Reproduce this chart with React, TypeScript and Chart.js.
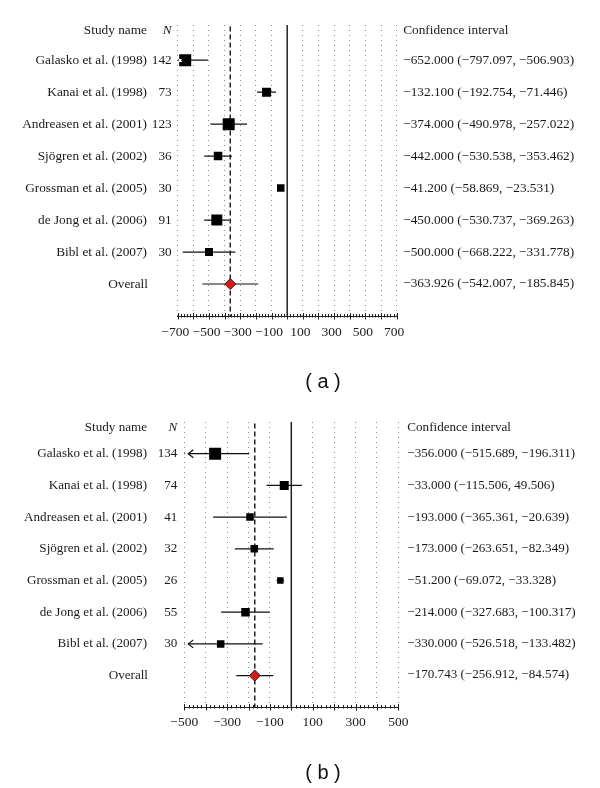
import React, { useEffect, useRef } from "react";
import { Chart, registerables } from "chart.js";
Chart.register(...registerables);

// ---------- data ----------
const studyNames = [
  "Galasko et al. (1998)",
  "Kanai et al. (1998)",
  "Andreasen et al. (2001)",
  "Sjögren et al. (2002)",
  "Grossman et al. (2005)",
  "de Jong et al. (2006)",
  "Bibl et al. (2007)",
];
const overallLabel = "Overall";

// panel (a)
const nA = [142, 73, 123, 36, 30, 91, 30];
const estA = [-652.0, -132.1, -374.0, -442.0, -41.2, -450.0, -500.0];
const loA = [-797.097, -192.754, -490.978, -530.538, -58.869, -530.737, -668.222];
const hiA = [-506.903, -71.446, -257.022, -353.462, -23.531, -369.263, -331.778];
const overallA = [-363.926, -542.007, -185.845]; // estimate, lower, upper
const tickLabelsA = [-700, -500, -300, -100, 100, 300, 500, 700];

// panel (b)
const nB = [134, 74, 41, 32, 26, 55, 30];
const estB = [-356.0, -33.0, -193.0, -173.0, -51.2, -214.0, -330.0];
const loB = [-515.689, -115.506, -365.361, -263.651, -69.072, -327.683, -526.518];
const hiB = [-196.311, 49.506, -20.639, -82.349, -33.328, -100.317, -133.482];
const overallB = [-170.743, -256.912, -84.574];
const tickLabelsB = [-500, -300, -100, 100, 300, 500];

// ---------- styles ----------
const boxSideA = [12, 9, 12, 8.5, 7.5, 11, 8];
const boxSideB = [12, 9, 7.5, 7.5, 6.5, 8.5, 7.5];
const SERIF = "'Liberation Serif', 'Times New Roman', serif";
const SANS = "'Liberation Sans', Arial, sans-serif";
const TEXT = "#1a1a1a";

const fmt = (v: number) => (v < 0 ? "\u2212" + Math.abs(v).toFixed(3) : v.toFixed(3));
const fmtTick = (v: number) => (v < 0 ? "\u2212" + Math.abs(v) : String(v));

type Panel = {
  n: number[]; est: number[]; lo: number[]; hi: number[]; overall: number[];
  box: number[]; ticks: number[]; caption: string;
  pad: { left: number; right: number; top: number; bottom: number };
  yMin: number; headerRow: number; ciGap: number; nGap: number; fontPx: number;
  tickPad: number; labelOffset: number; captionY: number;
};

const panels: Panel[] = [
  {
    n: nA, est: estA, lo: loA, hi: hiA, overall: overallA, box: boxSideA,
    ticks: tickLabelsA, caption: "( a )",
    pad: { left: 177.7, right: 203.3, top: 25, bottom: 48 },
    yMin: -0.1, headerRow: 0.08, ciGap: 6.5, nGap: 6, fontPx: 13.3,
    tickPad: 8, labelOffset: -2.5, captionY: 382,
  },
  {
    n: nB, est: estB, lo: loB, hi: hiB, overall: overallB, box: boxSideB,
    ticks: tickLabelsB, caption: "( b )",
    pad: { left: 184.3, right: 201.7, top: 28, bottom: 50.7 },
    yMin: 0, headerRow: 0.19, ciGap: 9, nGap: 7, fontPx: 13.1,
    tickPad: 7, labelOffset: 0, captionY: 379,
  },
];

const Y_MAX = 9;

function buildChart(canvas: HTMLCanvasElement, p: Panel) {
  const xMin = p.ticks[0];
  const xMax = p.ticks[p.ticks.length - 1];
  const rows = p.est.length;
  const overallRow = rows + 1;

  const errorSets = p.est.map((_, i) => ({
    type: "line" as const,
    data: [{ x: p.lo[i], y: i + 1 }, { x: p.hi[i], y: i + 1 }],
    borderColor: "#111",
    borderWidth: 1.2,
    pointRadius: 0,
    order: 2,
  }));
  errorSets.push({
    type: "line" as const,
    data: [{ x: p.overall[1], y: overallRow }, { x: p.overall[2], y: overallRow }],
    borderColor: "#111",
    borderWidth: 1.2,
    pointRadius: 0,
    order: 2,
  });

  const datasets: any[] = [
    {
      type: "scatter",
      data: [{ x: p.overall[0], y: overallRow }],
      pointStyle: "rectRot",
      pointRadius: 5.5,
      pointHoverRadius: 5.5,
      pointBackgroundColor: "#d21c1c",
      pointBorderColor: "#4d0a0a",
      pointBorderWidth: 1,
      order: 0,
    },
    {
      type: "scatter",
      data: p.est.map((e, i) => ({ x: e, y: i + 1 })),
      pointStyle: "rect",
      pointRadius: p.box.map((s) => s / Math.SQRT2),
      pointHoverRadius: p.box.map((s) => s / Math.SQRT2),
      pointBackgroundColor: "#000",
      pointBorderWidth: 0,
      order: 1,
    },
    ...errorSets,
    {
      type: "line",
      data: [{ x: p.overall[0], y: p.yMin + 0.05 }, { x: p.overall[0], y: Y_MAX }],
      borderColor: "#222",
      borderWidth: 1.5,
      borderDash: [5, 3],
      pointRadius: 0,
      order: 3,
    },
    {
      type: "line",
      data: [{ x: 0, y: p.yMin }, { x: 0, y: Y_MAX }],
      borderColor: "#222",
      borderWidth: 1.5,
      pointRadius: 0,
      order: 4,
    },
  ];

  const forestPlugin = {
    id: "forestText",
    afterDraw(chart: any) {
      const { ctx, chartArea } = chart;
      const x = chart.scales.x;
      const y = chart.scales.y;
      ctx.save();
      // ruler
      const yb = Math.round(chartArea.bottom) + 0.5;
      ctx.strokeStyle = "#222";
      ctx.lineWidth = 1;
      ctx.setLineDash([]);
      ctx.beginPath();
      for (let v = xMin; v <= xMax + 1e-6; v += 20) {
        const px = Math.round(x.getPixelForValue(v)) + 0.5;
        const major = Math.abs(v % 100) < 1e-6;
        ctx.moveTo(px, major ? yb - 3.5 : yb - 2.5);
        ctx.lineTo(px, major ? yb + 3 : yb + 1);
      }
      ctx.stroke();

      // arrows for intervals that leave the axis
      ctx.lineWidth = 1.2;
      ctx.strokeStyle = "#111";
      p.lo.forEach((lo, i) => {
        if (lo < xMin) {
          const py = y.getPixelForValue(i + 1);
          const ax = chartArea.left + 4;
          ctx.clearRect(chartArea.left + 0.8, py - 1.5, 3.2, 3);
          ctx.beginPath();
          ctx.moveTo(ax + 5, py - 4);
          ctx.lineTo(ax, py);
          ctx.lineTo(ax + 5, py + 4);
          ctx.stroke();
        }
      });

      // text columns
      ctx.fillStyle = TEXT;
      ctx.textBaseline = "middle";
      const nameRight = 147;
      const nRight = chartArea.left - p.nGap;
      const ciLeft = chartArea.right + p.ciGap;
      const hy = y.getPixelForValue(p.headerRow);
      ctx.font = `${p.fontPx}px ${SERIF}`;
      ctx.textAlign = "right";
      ctx.fillText("Study name", nameRight, hy);
      ctx.font = `italic ${p.fontPx}px ${SERIF}`;
      ctx.fillText("N", nRight, hy);
      ctx.font = `${p.fontPx}px ${SERIF}`;
      ctx.textAlign = "left";
      ctx.fillText("Confidence interval", ciLeft, hy);

      studyNames.forEach((name, i) => {
        const py = y.getPixelForValue(i + 1);
        ctx.textAlign = "right";
        ctx.fillText(name, nameRight, py);
        ctx.fillText(String(p.n[i]), nRight, py);
        ctx.textAlign = "left";
        ctx.fillText(`${fmt(p.est[i])} (${fmt(p.lo[i])}, ${fmt(p.hi[i])})`, ciLeft, py);
      });
      const oy = y.getPixelForValue(overallRow);
      ctx.textAlign = "right";
      ctx.fillText(overallLabel, nameRight + 1, oy);
      ctx.textAlign = "left";
      ctx.fillText(`${fmt(p.overall[0])} (${fmt(p.overall[1])}, ${fmt(p.overall[2])})`, ciLeft, oy - 1);

      // caption
      ctx.font = `20px ${SANS}`;
      ctx.textAlign = "center";
      ctx.fillStyle = "#111";
      ctx.fillText(p.caption, 323, p.captionY);
      ctx.restore();
    },
  };

  return new Chart(canvas, {
    type: "scatter",
    data: { datasets },
    options: {
      responsive: false,
      animation: false,
      events: [],
      layout: { padding: p.pad },
      plugins: { legend: { display: false }, tooltip: { enabled: false } },
      scales: {
        x: {
          type: "linear",
          position: "bottom",
          min: xMin,
          max: xMax,
          afterFit: (s: any) => {
            s.height = 30;
          },
          ticks: {
            stepSize: 100,
            autoSkip: false,
            maxRotation: 0,
            padding: p.tickPad,
            labelOffset: p.labelOffset,
            color: TEXT,
            font: { family: SERIF, size: 13.5 },
            callback: (v: any) => (p.ticks.includes(Number(v)) ? fmtTick(Number(v)) : ""),
          },
          grid: { color: "#8c8c8c", lineWidth: 1, drawTicks: false },
          border: { display: true, color: "#222", width: 1, dash: [1, 4] },
        },
        y: {
          type: "linear",
          reverse: true,
          min: p.yMin,
          max: Y_MAX,
          display: false,
        },
      },
    },
    plugins: [forestPlugin],
  } as any);
}

function ForestPanel({ panel, top }: { panel: Panel; top: number }) {
  const ref = useRef<HTMLCanvasElement | null>(null);
  useEffect(() => {
    if (!ref.current) return;
    const chart = buildChart(ref.current, panel);
    return () => chart.destroy();
  }, [panel]);
  return (
    <canvas
      ref={ref}
      width={600}
      height={394}
      style={{ position: "absolute", left: 0, top, width: 600, height: 394, display: "block" }}
    />
  );
}

export default function App() {
  return (
    <div style={{ position: "absolute", left: 0, top: 0, width: 600, height: 788, background: "#fff" }}>
      <ForestPanel panel={panels[0]} top={0} />
      <ForestPanel panel={panels[1]} top={394} />
    </div>
  );
}
